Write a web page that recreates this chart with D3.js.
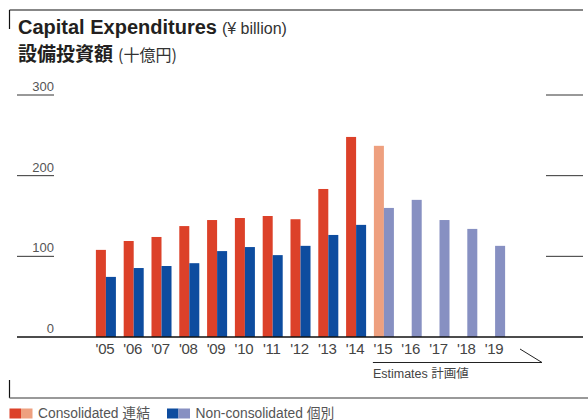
<!DOCTYPE html>
<html><head><meta charset="utf-8">
<script src="https://cdn.jsdelivr.net/npm/d3@7"></script>
<style>
body{margin:0;background:#fff;}
text{font-family:"Liberation Sans",Arial,"Noto Sans CJK JP",sans-serif;}
</style></head>
<body>
<svg id="c" width="588" height="420"></svg>
<script>
const years = ["'05","'06","'07","'08","'09","'10","'11","'12","'13","'14","'15","'16","'17","'18","'19"];
const consolidated = [108,119,124,137.5,145,147.5,150,146,183.5,248,237,null,null,null,null];
const nonConsolidated = [74.5,85.5,88,91.5,106.5,111.5,101.5,113,126.5,139,160,170,145,134,113];
const estimateFrom = "'15";
const yTicks = [0,100,200,300];

const colC = "#dc4129", colCe = "#eea07f", colN = "#0d4c9f", colNe = "#8790c2";
const svg = d3.select("#c");
const y = d3.scaleLinear().domain([0,300]).range([337,95]);
const x = d3.scaleBand().domain(years).range([92,509]).paddingInner(0.28).paddingOuter(0.14);
const sub = d3.scaleBand().domain(["c","n"]).range([0,x.bandwidth()]);
const isEst = d => years.indexOf(d) >= years.indexOf(estimateFrom);

// frame lines
svg.append("line").attr("x1",9.5).attr("x2",583).attr("y1",10).attr("y2",10).attr("stroke","#111").attr("stroke-width",1.2);
svg.append("line").attr("x1",9.5).attr("x2",9.5).attr("y1",10).attr("y2",29).attr("stroke","#111").attr("stroke-width",1.2);
svg.append("line").attr("x1",9.5).attr("x2",9.5).attr("y1",380).attr("y2",398).attr("stroke","#111").attr("stroke-width",1.2);
svg.append("line").attr("x1",9.5).attr("x2",588).attr("y1",398).attr("y2",398).attr("stroke","#777").attr("stroke-width",1.4);

// title
const t1 = svg.append("text").attr("x",18).attr("y",33.5).attr("fill","#231f20");
t1.append("tspan").attr("font-size",20).attr("font-weight","bold").attr("letter-spacing",0).text("Capital Expenditures");
t1.append("tspan").attr("font-size",16).attr("dx",5).attr("letter-spacing",0).attr("fill","#333").text("(¥ billion)");
const t2 = svg.append("text").attr("x",18).attr("y",61).attr("fill","#231f20");
t2.append("tspan").attr("font-size",19).attr("font-weight","bold").attr("font-family","Noto Sans CJK JP").text("設備投資額");
t2.append("tspan").attr("font-size",16).attr("dx",5).attr("fill","#333").attr("font-family","Noto Sans CJK JP").text("(十億円)");

// y ticks
yTicks.forEach(v=>{
  if(v>0){
    svg.append("line").attr("x1",17).attr("x2",54).attr("y1",y(v)).attr("y2",y(v)).attr("stroke","#333").attr("stroke-width",1);
    svg.append("line").attr("x1",546).attr("x2",583).attr("y1",y(v)).attr("y2",y(v)).attr("stroke","#333").attr("stroke-width",1);
  }
  svg.append("text").attr("x",54).attr("y",y(v)-4).attr("text-anchor","end").attr("font-size",13).attr("fill","#555").text(d3.format("d")(v));
});

// bars
const g = svg.append("g");
years.forEach((yr,i)=>{
  if(consolidated[i]!=null){
    g.append("rect").attr("x",x(yr)+sub("c")).attr("width",sub.bandwidth()).attr("y",y(consolidated[i])).attr("height",y(0)-y(consolidated[i])).attr("fill",isEst(yr)?colCe:colC);
  }
  if(nonConsolidated[i]!=null){
    g.append("rect").attr("x",x(yr)+sub("n")).attr("width",sub.bandwidth()).attr("y",y(nonConsolidated[i])).attr("height",y(0)-y(nonConsolidated[i])).attr("fill",isEst(yr)?colNe:colN);
  }
  svg.append("text").attr("x",x(yr)+x.bandwidth()/2-1).attr("y",354).attr("text-anchor","middle").attr("font-size",15).attr("letter-spacing",-0.3).attr("fill","#444").text(yr);
});

// baseline
svg.append("line").attr("x1",17).attr("x2",583).attr("y1",y(0)).attr("y2",y(0)).attr("stroke","#111").attr("stroke-width",1.4);

// estimates bracket
const ex0 = x(estimateFrom)-1;
svg.append("line").attr("x1",ex0).attr("x2",542).attr("y1",362.5).attr("y2",362.5).attr("stroke","#222").attr("stroke-width",1);
svg.append("line").attr("x1",520).attr("x2",542).attr("y1",349).attr("y2",362.5).attr("stroke","#222").attr("stroke-width",1);
svg.append("text").attr("x",ex0).attr("y",378).attr("font-size",12.5).attr("fill","#444").text("Estimates 計画値");

// legend
const leg = [{a:colC,b:colCe,t:"Consolidated 連結",x:9.5},{a:colN,b:colNe,t:"Non-consolidated 個別",x:167}];
leg.forEach(l=>{
  svg.append("rect").attr("x",l.x).attr("y",408.5).attr("width",11.5).attr("height",10).attr("fill",l.a);
  svg.append("rect").attr("x",l.x+11.5).attr("y",408.5).attr("width",11.5).attr("height",10).attr("fill",l.b);
  svg.append("text").attr("x",l.x+28.5).attr("y",417.5).attr("font-size",13.8).attr("fill","#555").text(l.t);
});
</script>
</body></html>
